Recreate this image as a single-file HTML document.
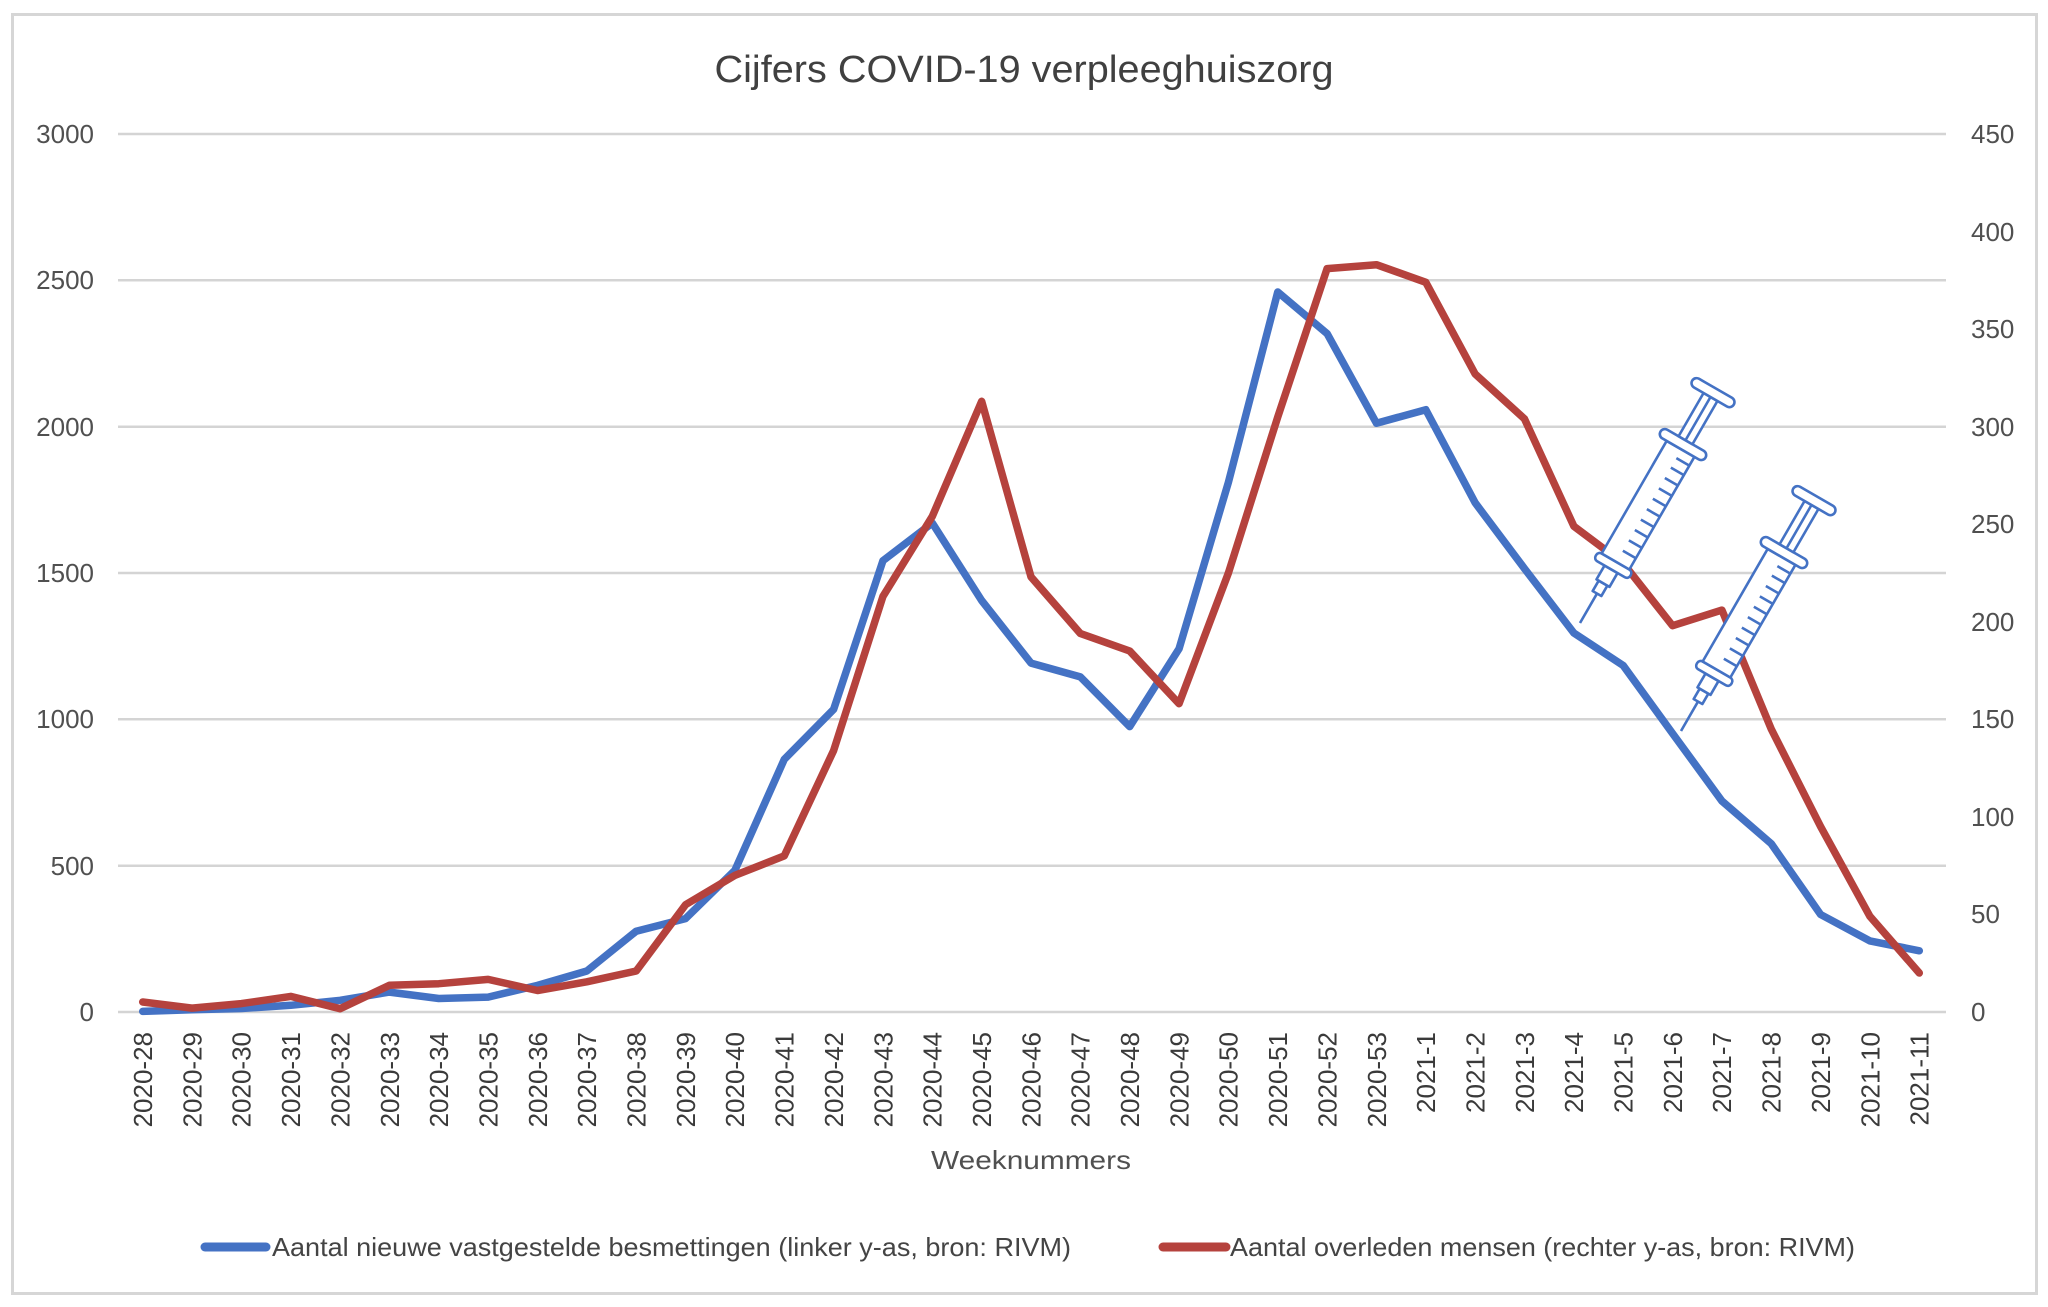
<!DOCTYPE html>
<html>
<head>
<meta charset="utf-8">
<style>
  html,body{margin:0;padding:0;background:#fff;}
  svg{display:block;}
  text{font-family:"Liberation Sans",Arial,sans-serif;}
</style>
</head>
<body>
<svg width="2048" height="1307" viewBox="0 0 2048 1307" xmlns="http://www.w3.org/2000/svg">
  <rect x="0" y="0" width="2048" height="1307" fill="#fff"/>
  <rect x="12.5" y="14.5" width="2024" height="1279" fill="#fff" stroke="#d6d6d6" stroke-width="3"/>

  <!-- title -->
  <text x="1024" y="82" font-size="38" fill="#404040" text-anchor="middle" textLength="619" lengthAdjust="spacingAndGlyphs">Cijfers COVID-19 verpleeghuiszorg</text>

  <!-- gridlines -->
  <g stroke="#d4d4d4" stroke-width="2.5">
    <line x1="118" y1="134" x2="1946" y2="134"/>
    <line x1="118" y1="280.3" x2="1946" y2="280.3"/>
    <line x1="118" y1="426.7" x2="1946" y2="426.7"/>
    <line x1="118" y1="573" x2="1946" y2="573"/>
    <line x1="118" y1="719.3" x2="1946" y2="719.3"/>
    <line x1="118" y1="865.7" x2="1946" y2="865.7"/>
    <line x1="118" y1="1012" x2="1946" y2="1012"/>
  </g>

  <!-- left axis labels -->
  <g font-size="26" fill="#505050" text-anchor="end">
    <text x="94" y="143">3000</text>
    <text x="94" y="289">2500</text>
    <text x="94" y="436">2000</text>
    <text x="94" y="582">1500</text>
    <text x="94" y="728">1000</text>
    <text x="94" y="875">500</text>
    <text x="94" y="1021">0</text>
  </g>

  <!-- right axis labels -->
  <g font-size="26" fill="#505050" text-anchor="start">
    <text x="1971" y="143">450</text>
    <text x="1971" y="241">400</text>
    <text x="1971" y="338">350</text>
    <text x="1971" y="436">300</text>
    <text x="1971" y="533">250</text>
    <text x="1971" y="631">200</text>
    <text x="1971" y="728">150</text>
    <text x="1971" y="826">100</text>
    <text x="1971" y="923">50</text>
    <text x="1971" y="1021">0</text>
  </g>

  <!-- x labels -->
  <g font-size="26" fill="#3a3a3a" text-anchor="end">
    <text transform="translate(152,1032) rotate(-90)">2020-28</text>
    <text transform="translate(201.4,1032) rotate(-90)">2020-29</text>
    <text transform="translate(250.7,1032) rotate(-90)">2020-30</text>
    <text transform="translate(300.1,1032) rotate(-90)">2020-31</text>
    <text transform="translate(349.4,1032) rotate(-90)">2020-32</text>
    <text transform="translate(398.8,1032) rotate(-90)">2020-33</text>
    <text transform="translate(448.1,1032) rotate(-90)">2020-34</text>
    <text transform="translate(497.5,1032) rotate(-90)">2020-35</text>
    <text transform="translate(546.8,1032) rotate(-90)">2020-36</text>
    <text transform="translate(596.2,1032) rotate(-90)">2020-37</text>
    <text transform="translate(645.5,1032) rotate(-90)">2020-38</text>
    <text transform="translate(694.9,1032) rotate(-90)">2020-39</text>
    <text transform="translate(744.2,1032) rotate(-90)">2020-40</text>
    <text transform="translate(793.6,1032) rotate(-90)">2020-41</text>
    <text transform="translate(842.9,1032) rotate(-90)">2020-42</text>
    <text transform="translate(892.3,1032) rotate(-90)">2020-43</text>
    <text transform="translate(941.6,1032) rotate(-90)">2020-44</text>
    <text transform="translate(991,1032) rotate(-90)">2020-45</text>
    <text transform="translate(1040.3,1032) rotate(-90)">2020-46</text>
    <text transform="translate(1089.7,1032) rotate(-90)">2020-47</text>
    <text transform="translate(1139,1032) rotate(-90)">2020-48</text>
    <text transform="translate(1188.4,1032) rotate(-90)">2020-49</text>
    <text transform="translate(1237.7,1032) rotate(-90)">2020-50</text>
    <text transform="translate(1287.1,1032) rotate(-90)">2020-51</text>
    <text transform="translate(1336.4,1032) rotate(-90)">2020-52</text>
    <text transform="translate(1385.8,1032) rotate(-90)">2020-53</text>
    <text transform="translate(1435.1,1032) rotate(-90)">2021-1</text>
    <text transform="translate(1484.5,1032) rotate(-90)">2021-2</text>
    <text transform="translate(1533.8,1032) rotate(-90)">2021-3</text>
    <text transform="translate(1583.2,1032) rotate(-90)">2021-4</text>
    <text transform="translate(1632.5,1032) rotate(-90)">2021-5</text>
    <text transform="translate(1681.9,1032) rotate(-90)">2021-6</text>
    <text transform="translate(1731.2,1032) rotate(-90)">2021-7</text>
    <text transform="translate(1780.6,1032) rotate(-90)">2021-8</text>
    <text transform="translate(1829.9,1032) rotate(-90)">2021-9</text>
    <text transform="translate(1879.3,1032) rotate(-90)">2021-10</text>
    <text transform="translate(1928.6,1032) rotate(-90)">2021-11</text>
  </g>

  <!-- axis title -->
  <text x="1031" y="1169" font-size="26" fill="#505050" text-anchor="middle" textLength="200" lengthAdjust="spacingAndGlyphs">Weeknummers</text>

  <!-- blue series -->
  <polyline fill="none" stroke="#4472c4" stroke-width="7.5" stroke-linejoin="round" stroke-linecap="round"
    points="142.7,1011.4 192.05,1009.7 241.4,1008.5 290.75,1005.3 340.1,1000.3 389.45,992.1 438.8,998.5 488.15,997.1 537.5,985.4 586.85,971 636.2,931.2 685.55,918.6 734.9,870.3 784.25,759.4 833.6,709.4 882.95,560.7 932.3,523 981.65,600.5 1031,663.1 1080.35,676.9 1129.7,726.6 1179.05,648.8 1228.4,482.3 1277.75,292 1327.1,333.6 1376.45,423.2 1425.8,409.7 1475.15,502.8 1524.5,568.6 1573.85,633 1623.2,665.5 1672.55,733.4 1721.9,801 1771.25,843.7 1820.6,914.5 1869.95,940.9 1919.3,950.8"/>

  <!-- red series -->
  <polyline fill="none" stroke="#b5423d" stroke-width="7.5" stroke-linejoin="round" stroke-linecap="round"
    points="142.7,1002 192.05,1008.1 241.4,1003.6 290.75,996.4 340.1,1008.7 389.45,985.3 438.8,983.7 488.15,979.4 537.5,990.5 586.85,981.8 636.2,971 685.55,904.7 734.9,875.4 784.25,855.9 833.6,750.6 882.95,596.4 932.3,516.4 981.65,401.3 1031,576.9 1080.35,633.5 1129.7,651 1179.05,703.7 1228.4,573 1277.75,417 1327.1,268.6 1376.45,264.7 1425.8,282.3 1475.15,374 1524.5,418.9 1573.85,526.2 1623.2,563.2 1672.55,625.7 1721.9,610.1 1771.25,729.1 1820.6,826.6 1869.95,916.4 1919.3,973"/>

  <!-- syringe 1 -->
  <g transform="translate(1580,623) rotate(-60)" fill="#fff" stroke="#4472c4" stroke-width="2.6" stroke-linejoin="round">
    <line x1="0" y1="0" x2="34" y2="0"/>
    <rect x="34" y="-5" width="12" height="10"/>
    <rect x="46" y="-7.5" width="16" height="15"/>
    <rect x="62" y="-20" width="9" height="40" rx="4"/>
    <rect x="71" y="-16" width="130" height="32"/>
    <rect x="201" y="-26" width="10" height="52" rx="5"/>
    <rect x="211" y="-8" width="50" height="16"/>
    <line x1="211" y1="0" x2="261" y2="0"/>
    <rect x="261" y="-24" width="10" height="48" rx="5"/>
    <g fill="none">
      <line x1="84" y1="16" x2="84" y2="1"/>
      <line x1="96" y1="16" x2="96" y2="1"/>
      <line x1="108" y1="16" x2="108" y2="1"/>
      <line x1="120" y1="16" x2="120" y2="1"/>
      <line x1="132" y1="16" x2="132" y2="1"/>
      <line x1="144" y1="16" x2="144" y2="1"/>
      <line x1="156" y1="16" x2="156" y2="1"/>
      <line x1="168" y1="16" x2="168" y2="1"/>
      <line x1="180" y1="16" x2="180" y2="1"/>
      <line x1="191" y1="16" x2="191" y2="1"/>
    </g>
  </g>

  <!-- syringe 2 -->
  <g transform="translate(1681,731) rotate(-60)" fill="#fff" stroke="#4472c4" stroke-width="2.6" stroke-linejoin="round">
    <line x1="0" y1="0" x2="34" y2="0"/>
    <rect x="34" y="-5" width="12" height="10"/>
    <rect x="46" y="-7.5" width="16" height="15"/>
    <rect x="62" y="-20" width="9" height="40" rx="4"/>
    <rect x="71" y="-16" width="130" height="32"/>
    <rect x="201" y="-26" width="10" height="52" rx="5"/>
    <rect x="211" y="-8" width="50" height="16"/>
    <line x1="211" y1="0" x2="261" y2="0"/>
    <rect x="261" y="-24" width="10" height="48" rx="5"/>
    <g fill="none">
      <line x1="84" y1="16" x2="84" y2="1"/>
      <line x1="96" y1="16" x2="96" y2="1"/>
      <line x1="108" y1="16" x2="108" y2="1"/>
      <line x1="120" y1="16" x2="120" y2="1"/>
      <line x1="132" y1="16" x2="132" y2="1"/>
      <line x1="144" y1="16" x2="144" y2="1"/>
      <line x1="156" y1="16" x2="156" y2="1"/>
      <line x1="168" y1="16" x2="168" y2="1"/>
      <line x1="180" y1="16" x2="180" y2="1"/>
      <line x1="191" y1="16" x2="191" y2="1"/>
    </g>
  </g>

  <!-- legend -->
  <line x1="205" y1="1247" x2="266" y2="1247" stroke="#4472c4" stroke-width="9" stroke-linecap="round"/>
  <text x="272" y="1256" font-size="26" fill="#444" textLength="799" lengthAdjust="spacingAndGlyphs">Aantal nieuwe vastgestelde besmettingen  (linker y-as, bron: RIVM)</text>
  <line x1="1163" y1="1247" x2="1226" y2="1247" stroke="#b5423d" stroke-width="9" stroke-linecap="round"/>
  <text x="1230" y="1256" font-size="26" fill="#444" textLength="625" lengthAdjust="spacingAndGlyphs">Aantal overleden mensen  (rechter y-as, bron: RIVM)</text>
</svg>
</body>
</html>
